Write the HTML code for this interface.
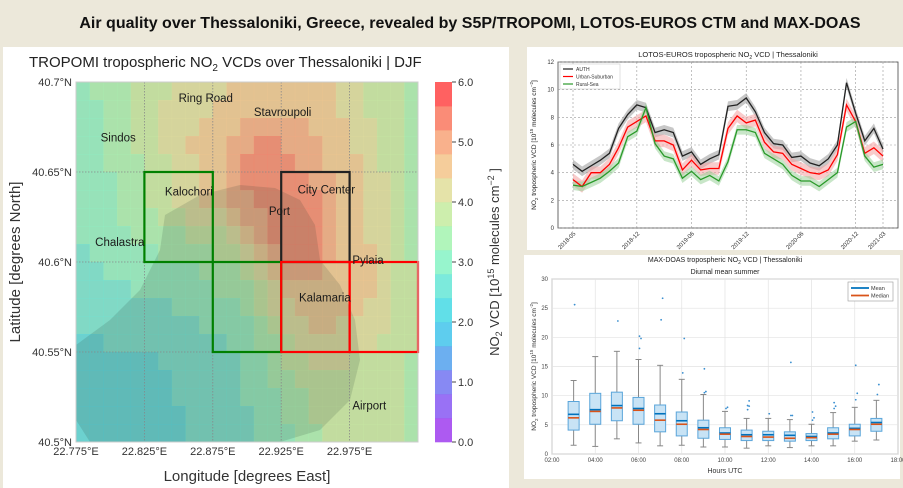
<!DOCTYPE html>
<html><head><meta charset="utf-8"><style>
body{margin:0;width:903px;height:488px;overflow:hidden;background:#ece8da;font-family:"Liberation Sans",sans-serif}
svg{display:block}
</style></head><body>
<svg id="s" width="903" height="488" viewBox="0 0 903 488" xmlns="http://www.w3.org/2000/svg" font-family="Liberation Sans, sans-serif">
<rect x="0" y="0" width="903" height="488" fill="#ece8da"/>
<text x="470" y="28" text-anchor="middle" font-size="16" font-weight="bold" fill="#111">Air quality over Thessaloniki, Greece, revealed by S5P/TROPOMI, LOTOS-EUROS CTM and MAX-DOAS</text>
<rect x="3" y="47" width="506" height="441" fill="#fff"/>
<rect x="527" y="47" width="376" height="203" fill="#fff"/>
<rect x="524" y="255" width="376" height="224" fill="#fff"/>
<g id="map"></g>
<g id="lotos"></g>
<g id="doas"></g>
</svg>
<script>
// ===== MAP DATA =====
const mapLonTicks = [22.775, 22.825, 22.875, 22.925, 22.975];
const mapLatTicks = [40.7, 40.65, 40.6, 40.55, 40.5];
const cbTicks = [0, 1, 2, 3, 4, 5, 6];
const no2Grid = [
[3.0,3.2,3.3,3.5,3.6,3.8,3.9,4.0,4.1,4.2,4.3,4.5,4.5,4.6,4.7,4.7,4.6,4.5,4.5,4.3,4.0,3.9,3.8,3.6,3.4],
[3.0,3.1,3.3,3.5,3.6,3.8,4.0,4.1,4.2,4.3,4.4,4.6,4.8,4.8,4.8,4.8,4.7,4.6,4.5,4.3,4.1,3.9,3.8,3.6,3.3],
[3.0,3.1,3.2,3.4,3.6,3.8,4.0,4.1,4.3,4.5,4.6,4.8,5.0,5.0,5.0,5.0,4.9,4.8,4.6,4.4,4.2,4.0,3.8,3.6,3.3],
[3.0,3.1,3.2,3.4,3.6,3.8,4.0,4.2,4.4,4.6,4.8,5.0,5.1,5.2,5.2,5.1,5.0,4.9,4.7,4.5,4.3,4.1,3.9,3.6,3.3],
[3.0,3.0,3.2,3.4,3.5,3.7,3.9,4.1,4.3,4.6,4.8,5.0,5.2,5.3,5.3,5.2,5.1,5.0,4.8,4.6,4.4,4.2,3.9,3.6,3.4],
[3.0,3.0,3.1,3.3,3.5,3.7,3.9,4.1,4.3,4.5,4.7,5.0,5.2,5.3,5.3,5.3,5.2,5.1,4.9,4.7,4.5,4.2,4.0,3.7,3.4],
[2.9,3.0,3.1,3.3,3.4,3.6,3.8,4.0,4.2,4.4,4.6,4.9,5.1,5.2,5.3,5.3,5.3,5.2,5.0,4.8,4.5,4.3,4.0,3.7,3.4],
[2.9,3.0,3.1,3.2,3.3,3.5,3.6,3.8,4.0,4.1,4.3,4.6,4.9,5.1,5.3,5.4,5.3,5.2,5.0,4.8,4.6,4.3,4.0,3.7,3.5],
[2.9,2.9,3.0,3.1,3.2,3.3,3.4,3.5,3.6,3.7,3.9,4.2,4.5,4.9,5.2,5.3,5.3,5.2,5.0,4.8,4.6,4.3,4.1,3.8,3.5],
[2.8,2.9,3.0,3.0,3.1,3.1,3.2,3.2,3.3,3.4,3.6,3.8,4.1,4.5,5.0,5.2,5.3,5.2,5.0,4.8,4.6,4.4,4.1,3.8,3.5],
[2.8,2.8,2.9,2.9,3.0,3.0,3.0,3.1,3.1,3.2,3.3,3.5,3.8,4.2,4.6,4.9,5.0,4.9,4.8,4.7,4.6,4.4,4.1,3.8,3.6],
[2.7,2.7,2.8,2.8,2.9,2.9,2.9,3.0,3.0,3.1,3.2,3.3,3.5,3.9,4.3,4.6,4.7,4.7,4.7,4.6,4.5,4.4,4.2,3.9,3.6],
[2.6,2.6,2.7,2.7,2.8,2.8,2.8,2.9,2.9,3.0,3.0,3.1,3.3,3.6,4.0,4.3,4.5,4.6,4.6,4.5,4.5,4.3,4.1,3.9,3.6],
[2.5,2.5,2.6,2.6,2.7,2.7,2.7,2.8,2.8,2.9,2.9,3.0,3.1,3.3,3.7,4.0,4.3,4.4,4.4,4.3,4.2,4.1,4.0,3.8,3.6],
[2.3,2.4,2.5,2.5,2.6,2.6,2.7,2.7,2.7,2.8,2.8,2.9,3.0,3.2,3.5,3.8,4.1,4.2,4.2,4.1,4.0,4.0,3.9,3.8,3.6],
[2.1,2.1,2.2,2.2,2.3,2.4,2.5,2.6,2.6,2.7,2.8,2.8,2.9,3.1,3.3,3.6,3.9,4.0,4.0,4.0,3.9,3.9,3.8,3.7,3.5],
[2.0,2.0,2.1,2.1,2.2,2.3,2.4,2.5,2.6,2.6,2.7,2.8,2.9,3.0,3.2,3.5,3.7,3.8,3.9,3.9,3.9,3.8,3.8,3.7,3.5],
[2.0,2.0,2.1,2.1,2.2,2.3,2.4,2.5,2.5,2.6,2.7,2.8,2.9,3.0,3.1,3.3,3.5,3.7,3.8,3.9,3.9,3.8,3.8,3.7,3.5],
[2.0,2.0,2.0,2.1,2.1,2.2,2.3,2.4,2.5,2.6,2.7,2.8,2.8,2.9,3.0,3.2,3.4,3.6,3.7,3.8,3.8,3.8,3.7,3.6,3.5],
[2.0,2.0,2.0,2.1,2.1,2.2,2.3,2.4,2.5,2.6,2.7,2.7,2.8,2.9,3.0,3.1,3.3,3.5,3.6,3.7,3.8,3.7,3.7,3.6,3.5]
];
const cmap = ['#a448f0','#8e62f4','#7a7cf2','#5ca6ee','#4cc8ec','#50dce6','#6ee8d8','#8cf4c8','#a8f4b4','#c8eca4','#e2e0a0','#f4c890','#f8a880','#fa8068','#ff5050'];
const places = [["Ring Road",22.85,40.689],["Stavroupoli",22.905,40.681],["Sindos",22.793,40.667],["Kalochori",22.84,40.637],["Port",22.916,40.626],["City Center",22.937,40.638],["Chalastra",22.789,40.609],["Pylaia",22.977,40.599],["Kalamaria",22.938,40.578],["Airport",22.977,40.518]];
const regions = [["green",22.825,22.875,40.6,40.65],["green",22.875,22.925,40.55,40.6],["#222",22.925,22.975,40.6,40.65],["red",22.925,22.975,40.55,40.6],["red",22.975,23.025,40.55,40.6]];

// ===== LOTOS DATA =====
const lotosStart = [2018, 5];
const authVals = [4.6,4.1,4.5,4.9,5.4,7.2,8.2,8.9,8.7,6.9,7.1,6.9,5.2,5.5,4.6,5.0,5.3,8.8,8.9,9.4,8.4,6.9,6.1,6.0,5.1,5.2,4.7,4.5,5.0,6.0,10.5,8.3,6.3,7.2,5.7];
const urbanVals = [3.5,3.0,4.0,4.0,4.6,5.8,7.3,7.7,8.1,6.3,6.3,6.0,4.2,4.9,4.2,4.3,4.3,7.2,8.1,7.6,7.8,6.2,5.5,5.4,4.6,4.3,4.0,3.9,4.2,5.3,8.9,7.7,5.4,5.8,5.2];
const ruralVals = [3.1,3.0,3.3,3.6,4.1,4.7,6.6,7.0,8.7,6.1,5.2,5.0,3.6,4.1,3.5,3.8,3.4,4.8,7.1,7.1,6.9,5.4,5.0,4.6,3.8,3.4,3.4,3.0,3.5,4.0,7.3,7.7,5.2,4.4,4.6];
const lotosSpread = [0.35, 0.45, 0.35];
const lotosYTicks = [0,2,4,6,8,10,12];
const lotosXTicks = ["2018-05","2018-12","2019-06","2019-12","2020-06","2020-12","2021-03"];

// ===== MAX-DOAS DATA =====
const doasHours = [3,4,5,6,7,8,9,10,11,12,13,14,15,16,17];
const doasLo = [1.5,1.3,2.6,1.9,1.4,1.5,1.2,1.2,1.0,1.4,1.1,1.4,1.4,2.2,2.4];
const doasQ1 = [4.1,5.1,5.7,5.1,3.8,3.1,2.7,2.5,2.3,2.3,2.2,2.3,2.6,3.1,3.9];
const doasMed = [6.2,7.3,7.9,7.5,5.8,5.1,4.2,3.4,3.0,2.9,2.7,2.8,3.4,4.2,5.1];
const doasMean = [6.8,7.6,8.3,7.8,6.9,5.7,4.5,3.6,3.3,3.3,3.2,3.0,3.6,4.4,5.4];
const doasQ3 = [9.0,10.4,10.6,9.7,8.4,7.2,5.8,4.5,4.1,3.9,3.8,3.5,4.5,5.1,6.1];
const doasHi = [12.6,16.7,17.6,16.2,15.2,12.8,10.2,7.3,6.1,6.1,5.9,5.1,7.1,8.0,9.2];
const doasOut = [[25.6],[],[22.8],[18.1,19.8,20.2],[23.0,26.7],[13.9,19.8],[10.5,10.7,14.6],[7.8,8.0],[7.6,8.2,8.3,9.1],[6.9],[6.6,6.6,15.7],[5.8,6.2,7.2],[7.8,8.2,8.8],[9.3,10.4,15.2],[10.2,11.9]];
const doasYTicks = [0,5,10,15,20,25,30];
const doasXTicks = ["02:00","04:00","06:00","08:00","10:00","12:00","14:00","16:00","18:00"];

const NS='http://www.w3.org/2000/svg';
function mk(p,tag,a,txt){const e=document.createElementNS(NS,tag);for(const k in a)e.setAttribute(k,a[k]);if(txt!==undefined)e.textContent=txt;p.appendChild(e);return e;}

// ===== MAP =====
(function(){
const g=document.getElementById('map');
const X0=76,X1=418,Y0=82,Y1=442;
const lonX=l=>X0+(l-22.775)/0.25*(X1-X0);
const latY=l=>Y0+(40.7-l)/0.2*(Y1-Y0);
const col=v=>cmap[Math.max(0,Math.min(14,Math.floor(v/0.4)))];
let t=mk(g,'text',{x:29,y:67,'font-size':15,fill:'#222'});


t.innerHTML='TROPOMI tropospheric NO<tspan font-size="10" dy="4">2</tspan><tspan dy="-4"> VCDs over Thessaloniki | DJF</tspan>';
let bg=mk(g,'rect',{x:X0,y:Y0,width:X1-X0,height:Y1-Y0,fill:'#b4b494'});


no2Grid.forEach((row,r)=>row.forEach((v,c)=>{
 const x=lonX(22.775+0.01*c),x2=lonX(22.775+0.01*(c+1)),y=latY(40.7-0.01*r),y2=latY(40.7-0.01*(r+1));
 const e=mk(g,'rect',{x:x,y:y,width:x2-x+0.3,height:y2-y+0.3,fill:col(v),opacity:0.72});
 
 
}));
let sea=mk(g,'path',{d:'M165,215 L200,195 L240,185 L275,188 L300,200 L315,225 L320,260 L340,285 L355,320 L360,360 L350,400 L320,430 L280,442 L90,442 L76,420 L76,345 L110,320 L140,290 L160,250 Z',fill:'rgba(30,50,40,0.14)'});


mapLonTicks.slice(1).forEach(l=>{const e=mk(g,'line',{x1:lonX(l),x2:lonX(l),y1:Y0,y2:Y1,stroke:'#888','stroke-width':0.8,'stroke-dasharray':'1.5,1.5'});});
mapLatTicks.slice(1,4).forEach(l=>{const e=mk(g,'line',{x1:X0,x2:X1,y1:latY(l),y2:latY(l),stroke:'#888','stroke-width':0.8,'stroke-dasharray':'1.5,1.5'});});
regions.forEach(rg=>{const e=mk(g,'rect',{x:lonX(rg[1]),y:latY(rg[4]),width:lonX(rg[2])-lonX(rg[1]),height:latY(rg[3])-latY(rg[4]),fill:'none',stroke:rg[0],'stroke-width':2.2});});
places.forEach(p=>{const e=mk(g,'text',{x:lonX(p[1]),y:latY(p[2]),'font-size':11.5,fill:'#1a1a1a'},p[0]);});
let fr=mk(g,'rect',{x:X0,y:Y0,width:X1-X0,height:Y1-Y0,fill:'none',stroke:'#ccc','stroke-width':1});


mapLonTicks.forEach(l=>{const e=mk(g,'text',{x:lonX(l),y:455,'font-size':11,fill:'#333','text-anchor':'middle'},l.toFixed(3)+'°E');});
mapLatTicks.forEach(l=>{const e=mk(g,'text',{x:72,y:latY(l)+4,'font-size':11,fill:'#333','text-anchor':'end'},(l===40.7||l===40.6||l===40.5?l.toFixed(1):l.toFixed(2))+'°N');});
let xt=mk(g,'text',{x:247,y:481,'font-size':15,fill:'#333','text-anchor':'middle'},'Longitude [degrees East]');


let yt=mk(g,'text',{x:0,y:0,'font-size':15,fill:'#333','text-anchor':'middle',transform:'translate(20,262) rotate(-90)'},'Latitude [degrees North]');


// colorbar
const CX=435,CW=17;
const cbY=v=>Y1-(v/6)*(Y1-Y0);
cmap.forEach((c,i)=>{const e=mk(g,'rect',{x:CX,y:cbY((i+1)*0.4),width:CW,height:cbY(i*0.4)-cbY((i+1)*0.4)+0.3,fill:c,opacity:0.9});});
cbTicks.forEach(v=>{const l=mk(g,'line',{x1:CX+CW,x2:CX+CW+4,y1:cbY(v),y2:cbY(v),stroke:'#444'});
 const e=mk(g,'text',{x:CX+CW+6,y:cbY(v)+4,'font-size':11,fill:'#333'},v.toFixed(1));});
let cl=mk(g,'text',{x:0,y:0,'font-size':13,fill:'#333','text-anchor':'middle',transform:'translate(499,262) rotate(-90)'});


cl.innerHTML='NO<tspan font-size="9" dy="3">2</tspan><tspan dy="-3"> VCD [10</tspan><tspan font-size="9" dy="-5">15</tspan><tspan dy="5"> molecules cm</tspan><tspan font-size="9" dy="-5">−2</tspan><tspan dy="5"> ]</tspan>';
})();

// ===== LOTOS =====
(function(){
const g=document.getElementById('lotos');
const X0=558,X1=898,Y0=62,Y1=228;
const mX=i=>573+i*(310/34);
const vY=v=>Y1-v/12*(Y1-Y0);
const ax=mk(g,'rect',{x:X0,y:Y0,width:X1-X0,height:Y1-Y0,fill:'#fff',stroke:'#444','stroke-width':0.8});


const tickIdx=lotosXTicks.map(s=>{const [y,m]=s.split('-').map(Number);return (y-lotosStart[0])*12+(m-lotosStart[1]);});
tickIdx.forEach((i,k)=>{const l=mk(g,'line',{x1:mX(i),x2:mX(i),y1:Y0,y2:Y1,stroke:'#999','stroke-width':0.6,'stroke-dasharray':'2,2'});
 const e=mk(g,'text',{x:0,y:0,'font-size':6,fill:'#333','text-anchor':'end',transform:`translate(${mX(i)+3},${Y1+6}) rotate(-45)`},lotosXTicks[k]);});
lotosYTicks.forEach(v=>{const l=mk(g,'line',{x1:X0,x2:X1,y1:vY(v),y2:vY(v),stroke:'#999','stroke-width':0.6,'stroke-dasharray':'2,2'});
 const e=mk(g,'text',{x:X0-4,y:vY(v)+2,'font-size':6,fill:'#333','text-anchor':'end'},v);});
const series=[[authVals,'#222','#999','auth'],[urbanVals,'#f00','#f4a0a0','urban-suburban'],[ruralVals,'#2a9a2a','#9ad29a','rural-sea']];
series.forEach((s,k)=>{
 const sp=lotosSpread[k];
 const up=s[0].map((v,i)=>mX(i)+','+vY(v+sp)).join(' ');
 const dn=s[0].map((v,i)=>mX(i)+','+vY(v-sp)).reverse().join(' ');
 const b=mk(g,'polygon',{points:up+' '+dn,fill:s[2],opacity:0.55});
});
series.forEach(s=>{const p=mk(g,'polyline',{points:s[0].map((v,i)=>mX(i)+','+vY(v)).join(' '),fill:'none',stroke:s[1],'stroke-width':1.3});});
const lg=mk(g,'rect',{x:560,y:64,width:60,height:25,fill:'#fff',stroke:'#ccc','stroke-width':0.6});


[['AUTH','#222'],['Urban-Suburban','#f00'],['Rural-Sea','#2a9a2a']].forEach((e,i)=>{const l=mk(g,'line',{x1:563,x2:573,y1:69+i*7.5,y2:69+i*7.5,stroke:e[1],'stroke-width':1.2});
 const t=mk(g,'text',{x:576,y:71+i*7.5,'font-size':5,fill:'#333'},e[0]);});
const tt=mk(g,'text',{x:728,y:57,'font-size':7.5,fill:'#222','text-anchor':'middle'});


tt.innerHTML='LOTOS-EUROS tropospheric NO<tspan font-size="5" dy="2">2</tspan><tspan dy="-2"> VCD | Thessaloniki</tspan>';
const yl=mk(g,'text',{x:0,y:0,'font-size':6.5,fill:'#222','text-anchor':'middle',transform:`translate(536,${(Y0+Y1)/2}) rotate(-90)`});


yl.innerHTML='NO<tspan font-size="4.5" dy="2">2</tspan><tspan dy="-2"> tropospheric VCD [10</tspan><tspan font-size="4.5" dy="-3">15</tspan><tspan dy="3"> molecules cm</tspan><tspan font-size="4.5" dy="-3">−2</tspan><tspan dy="3">]</tspan>';
})();

// ===== MAX-DOAS =====
(function(){
const g=document.getElementById('doas');
const X0=552,X1=898,Y0=279,Y1=454;
const hX=h=>X0+(h-2)/16*(X1-X0);
const vY=v=>Y1-v/30*(Y1-Y0);
const ax=mk(g,'rect',{x:X0,y:Y0,width:X1-X0,height:Y1-Y0,fill:'#fff',stroke:'#666','stroke-width':0.7});


doasXTicks.forEach((s,i)=>{const h=2+2*i;const l=mk(g,'line',{x1:hX(h),x2:hX(h),y1:Y0,y2:Y1,stroke:'#e2e2e2','stroke-width':0.7});
 const e=mk(g,'text',{x:hX(h),y:Y1+8,'font-size':6,fill:'#444','text-anchor':'middle'},s);});
doasYTicks.forEach(v=>{const l=mk(g,'line',{x1:X0,x2:X1,y1:vY(v),y2:vY(v),stroke:'#e2e2e2','stroke-width':0.7});
 const e=mk(g,'text',{x:X0-4,y:vY(v)+2,'font-size':6,fill:'#444','text-anchor':'end'},v);});
const bw=11;
doasHours.forEach((h,i)=>{
 const x=hX(h);
 const w=mk(g,'line',{x1:x,x2:x,y1:vY(doasLo[i]),y2:vY(doasHi[i]),stroke:'#888','stroke-width':1});
 [doasLo[i],doasHi[i]].forEach(v=>{const c=mk(g,'line',{x1:x-3,x2:x+3,y1:vY(v),y2:vY(v),stroke:'#888','stroke-width':1});});
 const b=mk(g,'rect',{x:x-bw/2,y:vY(doasQ3[i]),width:bw,height:vY(doasQ1[i])-vY(doasQ3[i]),fill:'#c8e3f5',stroke:'#5aa5da','stroke-width':1});
 const mn=mk(g,'line',{x1:x-bw/2,x2:x+bw/2,y1:vY(doasMean[i]),y2:vY(doasMean[i]),stroke:'#0072bd','stroke-width':1.6});
 const md=mk(g,'line',{x1:x-bw/2,x2:x+bw/2,y1:vY(doasMed[i]),y2:vY(doasMed[i]),stroke:'#d95319','stroke-width':1.6});
 doasOut[i].forEach((v,k)=>{const o=mk(g,'circle',{cx:x+1+(k%2)*1.5,cy:vY(v),r:0.9,fill:'#3a8fd0'});});
});
const lg=mk(g,'rect',{x:848,y:282,width:45,height:19,fill:'#fff',stroke:'#999','stroke-width':0.6});


[['Mean','#0072bd'],['Median','#d95319']].forEach((e,i)=>{const l=mk(g,'line',{x1:851,x2:869,y1:288+i*7.5,y2:288+i*7.5,stroke:e[1],'stroke-width':1.8});
 const t=mk(g,'text',{x:871,y:290+i*7.5,'font-size':5.5,fill:'#333'},e[0]);});
const t1=mk(g,'text',{x:725,y:262,'font-size':7,fill:'#222','text-anchor':'middle'});


t1.innerHTML='MAX-DOAS tropospheric NO<tspan font-size="5" dy="2">2</tspan><tspan dy="-2"> VCD | Thessaloniki</tspan>';
const t2=mk(g,'text',{x:725,y:274,'font-size':7,fill:'#222','text-anchor':'middle'},'Diurnal mean summer');


const xl=mk(g,'text',{x:725,y:473,'font-size':7,fill:'#333','text-anchor':'middle'},'Hours UTC');


const yl=mk(g,'text',{x:0,y:0,'font-size':6.5,fill:'#333','text-anchor':'middle',transform:`translate(536,${(Y0+Y1)/2}) rotate(-90)`});


yl.innerHTML='NO<tspan font-size="4.5" dy="2">2</tspan><tspan dy="-2"> tropospheric VCD [10</tspan><tspan font-size="4.5" dy="-3">15</tspan><tspan dy="3"> molecules cm</tspan><tspan font-size="4.5" dy="-3">-2</tspan><tspan dy="3">]</tspan>';
})();
</script>
</body></html>
